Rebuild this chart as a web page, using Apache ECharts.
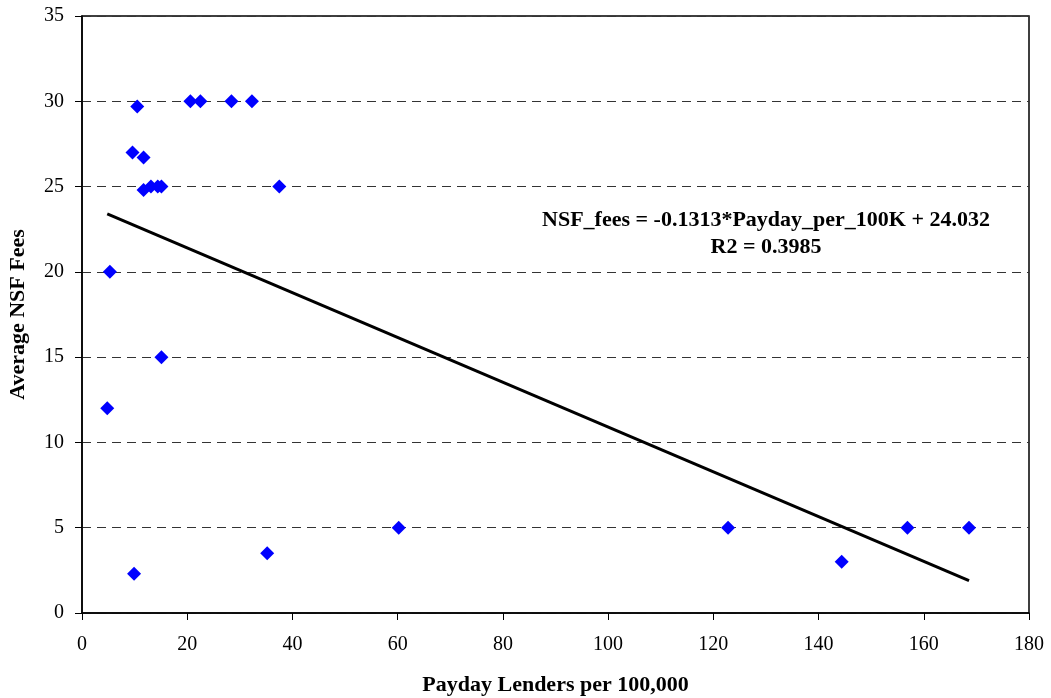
<!DOCTYPE html>
<html>
<head>
<meta charset="utf-8">
<script src="https://cdn.jsdelivr.net/npm/echarts@6/dist/echarts.min.js"></script>
<style>
  html, body { margin: 0; padding: 0; background: #fff; }
  #chart { width: 1051px; height: 698px; }
</style>
</head>
<body>
<div id="chart"></div>
<script>
// 数据
var paydayPer100K = [4.8, 5.3, 10.5, 9.6, 11.7, 11.7, 13.1, 14.4, 15.1, 15.1, 9.9, 20.6, 22.5, 28.4, 32.3, 37.5, 35.2, 60.2, 122.8, 144.4, 156.9, 168.6];
var nsfFees       = [12, 20, 29.7, 27, 26.7, 24.8, 25, 25, 25, 15, 2.3, 30, 30, 30, 30, 25, 3.5, 5, 5, 3, 5, 5];
var xTicks = [0, 20, 40, 60, 80, 100, 120, 140, 160, 180];
var yTicks = [0, 5, 10, 15, 20, 25, 30, 35];
var slope = -0.1313, intercept = 24.032;
var trendX = [4.8, 168.6];

var points = paydayPer100K.map(function (x, i) { return [x, nsfFees[i]]; });
var trend = trendX.map(function (x) { return [x, slope * x + intercept]; });

var myChart = echarts.init(document.getElementById('chart'));
var font = 'Liberation Serif';

var option = {
    animation: false,
    backgroundColor: '#fff',
    grid: {
        left: 82, right: 22, top: 16, bottom: 85,
        containLabel: false, outerBoundsMode: 'none',
        show: true, borderColor: '#000', borderWidth: 1.5, backgroundColor: 'transparent'
    },
    xAxis: {
        type: 'value', min: xTicks[0], max: xTicks[xTicks.length - 1], interval: 20,
        axisLine: { show: true, lineStyle: { color: '#000', width: 1.5 } },
        axisTick: { show: true, inside: false, length: 7, lineStyle: { color: '#000' } },
        axisLabel: { color: '#000', fontFamily: font, fontSize: 20, margin: 22 },
        splitLine: { show: false },
        name: 'Payday Lenders per 100,000',
        nameLocation: 'middle', nameGap: 61,
        nameTextStyle: { color: '#000', fontFamily: font, fontSize: 22, fontWeight: 'bold' }
    },
    yAxis: {
        type: 'value', min: yTicks[0], max: yTicks[yTicks.length - 1], interval: 5,
        axisLine: { show: true, lineStyle: { color: '#000', width: 1.5 } },
        axisTick: { show: true, inside: false, length: 7, lineStyle: { color: '#000' } },
        axisLabel: { color: '#000', fontFamily: font, fontSize: 20, margin: 18 },
        splitLine: { show: true, lineStyle: { color: '#333', type: [9, 6], width: 1 } },
        name: 'Average NSF Fees',
        nameLocation: 'middle', nameGap: 53,
        nameTextStyle: { color: '#000', fontFamily: font, fontSize: 22, fontWeight: 'bold' }
    },
    series: [
        {
            type: 'scatter',
            data: points,
            symbol: 'diamond',
            symbolSize: 14,
            itemStyle: { color: '#0000FF', opacity: 1 },
            z: 3
        },
        {
            type: 'line',
            data: trend,
            symbol: 'none',
            lineStyle: { color: '#000', width: 3 },
            z: 2
        }
    ],
    graphic: [
        {
            type: 'text', x: 766, y: 207,
            style: {
                text: 'NSF_fees = -0.1313*Payday_per_100K + 24.032\nR2 = 0.3985',
                fontFamily: font, fontSize: 22, fontWeight: 'bold', fill: '#000',
                align: 'center', verticalAlign: 'top', lineHeight: 27
            }
        }
    ]
};

myChart.setOption(option);
</script>
</body>
</html>
